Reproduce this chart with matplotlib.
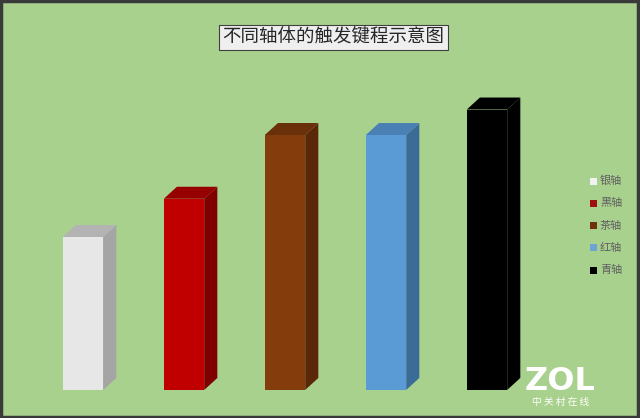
import matplotlib.pyplot as plt
from matplotlib.patches import Polygon, Rectangle

plt.rcParams['font.family'] = ['Noto Sans CJK SC', 'DejaVu Sans']

# 触发键程 (mm)
switches = ['银轴', '黑轴', '茶轴', '红轴', '青轴']
travel = [1.2, 1.5, 2.0, 2.0, 2.2]
front_colors = ['#e7e7e7', '#c00000', '#843c0c', '#5b9bd5', '#000000']
side_colors = ['#a5a5a5', '#7f0000', '#5a2808', '#3b6c98', '#000000']
top_colors = ['#b3b3b3', '#960000', '#6a300a', '#4a80b4', '#000000']

bg = '#a9d18e'
fig = plt.figure(figsize=(6.4, 4.18), dpi=100)
fig.patch.set_facecolor(bg)
ax = fig.add_axes([0, 0, 1, 1])
ax.set_facecolor(bg)
ax.set_xlim(-0.822, 5.515)
ax.set_ylim(-0.22, 3.059)
ax.axis('off')

width = 0.4
dx, dy = 0.13, 0.094
x = list(range(len(switches)))
bars = ax.bar(x, travel, width=width, color=front_colors, zorder=3,
              edgecolor='none')

for xi, h, sc, tc in zip(x, travel, side_colors, top_colors):
    left, right = xi - width / 2, xi + width / 2
    side = Polygon([(right, 0), (right + dx, dy), (right + dx, h + dy), (right, h)],
                   closed=True, facecolor=sc, edgecolor='none', zorder=2)
    top = Polygon([(left, h), (left + dx, h + dy), (right + dx, h + dy), (right, h)],
                  closed=True, facecolor=tc, edgecolor='none', zorder=2)
    ax.add_patch(side)
    ax.add_patch(top)

# 标题
fig.text(0.521, 0.911, '不同轴体的触发键程示意图', fontsize=13.3, color='#262626',
         ha='center', va='center',
         bbox=dict(boxstyle='square,pad=0.2', facecolor='#efefef', edgecolor='#404040', linewidth=0.8))

# 图例
legend_colors = ['#f2f2f2', '#a01010', '#6e320c', '#6fa3d3', '#000000']
for i, (name, c) in enumerate(zip(switches, legend_colors)):
    y = 1 - (181 + 22.3 * i) / 418
    fig.patches.append(Rectangle((590 / 640, y - 3.5 / 418), 7 / 640, 7 / 418,
                                 transform=fig.transFigure, facecolor=c, edgecolor='none'))
    fig.text(600 / 640, y, name, fontsize=8, color='#5f5f5f', va='center', ha='left')

# 水印
fig.text(560 / 640, 1 - 381 / 418, 'ZOL', fontsize=23, fontweight='bold', color='white',
         ha='center', va='center', family=['DejaVu Sans'])
fig.text(561 / 640, 1 - 402 / 418, '中 关 村 在 线', fontsize=7, color='white',
         ha='center', va='center')

# 外框
fig.patches.append(Rectangle((0.002, 0.003), 0.995, 0.994, transform=fig.transFigure,
                             facecolor='none', edgecolor='#3a3a3a', linewidth=2.5))

fig.savefig('out.png', dpi=100, facecolor=bg)
